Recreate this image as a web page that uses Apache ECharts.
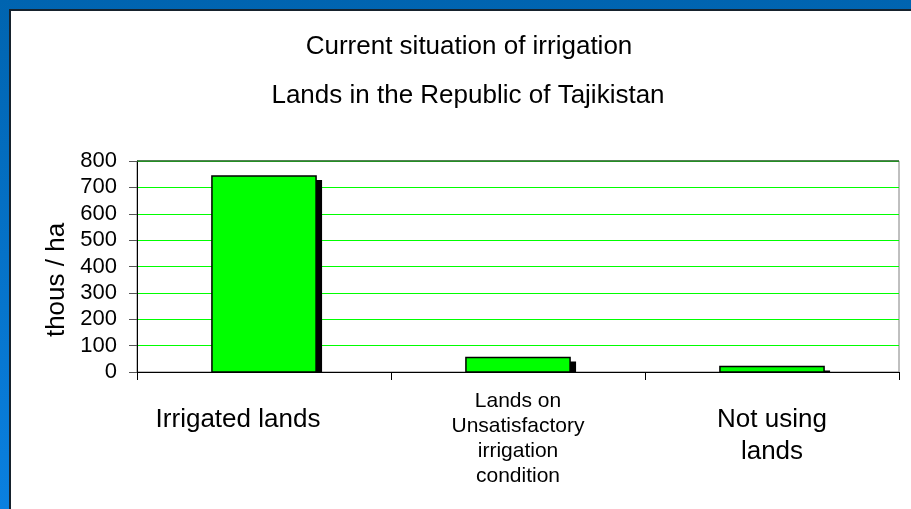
<!DOCTYPE html>
<html>
<head>
<meta charset="utf-8">
<script src="https://cdn.jsdelivr.net/npm/echarts@6/dist/echarts.min.js"></script>
<style>
  html, body { margin: 0; padding: 0; }
  body { width: 911px; height: 509px; overflow: hidden; background: linear-gradient(to bottom, #0064b0, #0a80e0); position: relative; }
  #panel { position: absolute; left: 9px; top: 9px; right: 0; bottom: 0; background: #fff; border-top: 2px solid #16222d; border-left: 2px solid #16222d; }
  #chart { position: absolute; left: 0; top: 0; width: 911px; height: 509px; }
</style>
</head>
<body>
<div id="panel"></div>
<div id="chart"></div>
<script>
// data
const categories = ["Irrigated lands", "Lands on\nUnsatisfactory\nirrigation\ncondition", "Not using\nlands"];
const values = [743, 55, 21];
const yTicks = [0, 100, 200, 300, 400, 500, 600, 700, 800];
const titleLines = ["Current situation of irrigation", "Lands in the Republic of Tajikistan"];
const yName = "thous / ha";

const font = "'Liberation Sans', Arial, sans-serif";
const chart = echarts.init(document.getElementById("chart"));

const option = {
  animation: false,
  title: [
    { text: titleLines[0], left: 464, top: 29, textAlign: "center",
      textStyle: { fontSize: 26, fontWeight: "normal", color: "#000", fontFamily: font } },
    { text: titleLines[1], left: 463, top: 78, textAlign: "center",
      textStyle: { fontSize: 26, fontWeight: "normal", color: "#000", fontFamily: font } },
  ],
  graphic: [
    { type: "text", x: 57, y: 280, rotation: Math.PI / 2,
      style: { text: yName, fontSize: 26, fontFamily: font, fill: "#000", align: "center", verticalAlign: "middle" } },
  ],
  grid: { left: 137, right: 12, top: 161, bottom: 137, show: true, borderColor: "#808080", borderWidth: 1, backgroundColor: "transparent" },
  xAxis: {
    type: "category",
    data: categories,
    axisLine: { lineStyle: { color: "#000", width: 1 } },
    axisTick: { show: true, length: 8, lineStyle: { color: "#000" } },
    axisLabel: {
      interval: 0,
      margin: 17,
      color: "#000",
      fontFamily: font,
      formatter: (v, i) => {
        const lines = v.split("\n");
        if (i === 0) return "{sp| }\n" + lines.map(l => "{first|" + l + "}").join("\n");
        if (i === 1) return lines.map(l => "{small|" + l + "}").join("\n");
        return "{sp| }\n" + lines.map(l => "{big|" + l + "}").join("\n");
      },
      rich: {
        sp: { fontSize: 8, lineHeight: 15 },
        first: { fontSize: 26, lineHeight: 32, fontFamily: font, color: "#000", padding: [0, 52, 0, 0] },
        big: { fontSize: 26, lineHeight: 32, fontFamily: font, color: "#000" },
        small: { fontSize: 21, lineHeight: 25, fontFamily: font, color: "#000" },
      },
    },
    splitLine: { show: false },
  },
  yAxis: {
    type: "value",
    min: yTicks[0],
    max: yTicks[yTicks.length - 1],
    interval: 100,
    axisLine: { show: true, lineStyle: { color: "#000", width: 1 } },
    axisTick: { show: true, length: 8, lineStyle: { color: "#555" } },
    axisLabel: { fontSize: 22, color: "#000", fontFamily: font, margin: 20 },
    splitLine: { show: true, lineStyle: { color: "#00ff00", width: 1 } },
  },
  series: [
    {
      type: "custom",
      data: values.map((v, i) => [i, v]),
      encode: { x: 0, y: 1 },
      renderItem: (params, api) => {
        const top = api.coord([api.value(0), api.value(1)]);
        const base = api.coord([api.value(0), 0]);
        const band = api.size([1, 0])[0];
        const w = band * 0.41;
        const x = top[0] - w / 2;
        const h = base[1] - top[1];
        return {
          type: "group",
          children: [
            { type: "rect", shape: { x: x + 6, y: top[1] + 4, width: w, height: Math.max(h - 4, 0) }, style: { fill: "#000" } },
            { type: "rect", shape: { x: x, y: top[1], width: w, height: h }, style: { fill: "#00ff00", stroke: "#000", lineWidth: 1.5 } },
          ],
        };
      },
      markLine: {
        silent: true,
        symbol: "none",
        label: { show: false },
        lineStyle: { color: "#2f6a2f", type: "solid", width: 1.5 },
        data: [{ yAxis: yTicks[yTicks.length - 1] }],
      },
    },
  ],
};
chart.setOption(option);
</script>
</body>
</html>
